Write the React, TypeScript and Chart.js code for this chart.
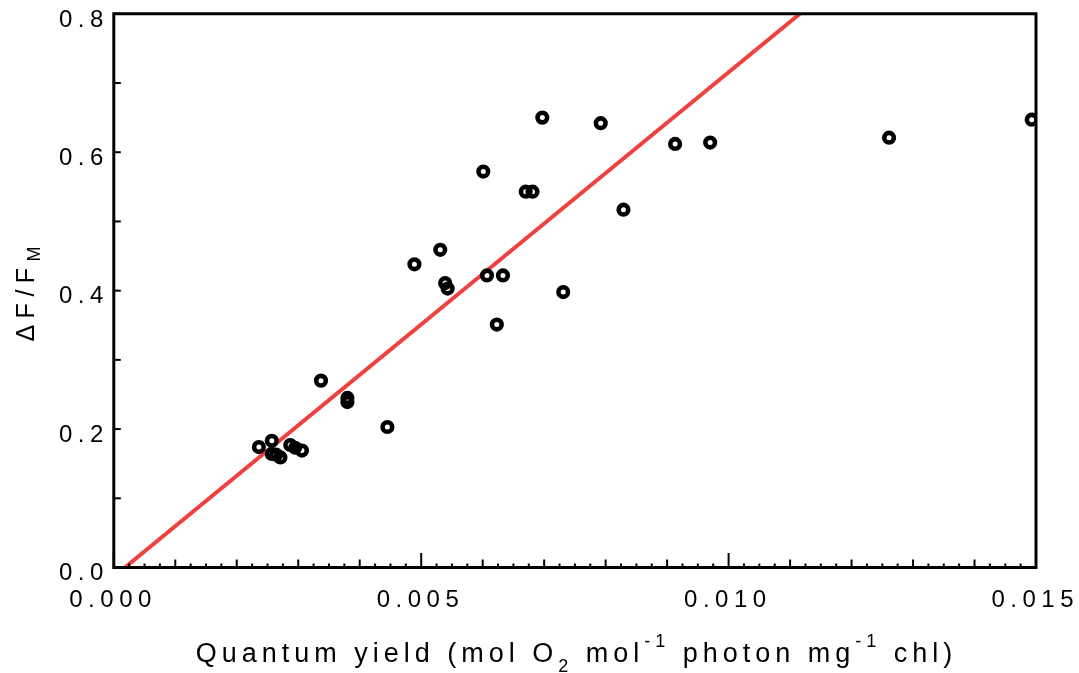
import React, { useEffect, useRef } from "react";
import { Chart, registerables } from "chart.js";

Chart.register(...registerables);

// ---- data ----
const yieldX = [
  0.00236, 0.00257, 0.00257, 0.00264, 0.00271, 0.00287, 0.00295, 0.00306,
  0.00337, 0.0038, 0.0038, 0.00445, 0.00489, 0.00531, 0.00539, 0.00543,
  0.00601, 0.00607, 0.00623, 0.00633, 0.0067, 0.00681, 0.00697, 0.00731,
  0.00792, 0.00829, 0.00913, 0.0097, 0.01261, 0.01493,
];
const fvfmY = [
  0.174, 0.183, 0.164, 0.163, 0.159, 0.177, 0.173, 0.169, 0.27, 0.245, 0.239,
  0.203, 0.438, 0.459, 0.411, 0.403, 0.572, 0.422, 0.351, 0.422, 0.543, 0.543,
  0.65, 0.398, 0.642, 0.517, 0.612, 0.614, 0.621, 0.647,
];
const fitX = [0.00018, 0.01116];
const fitY = [0.0, 0.8];

const xTickValues = [0, 0.005, 0.01, 0.015];
const xTickLabels = ["0.000", "0.005", "0.010", "0.015"];
const yTickValues = [0, 0.2, 0.4, 0.6, 0.8];
const yTickLabels = ["0.0", "0.2", "0.4", "0.6", "0.8"];

const FONT = '"Liberation Sans", Arial, Helvetica, sans-serif';

type Seg = { t: string; size: number; dy: number };

function segWidth(ctx: CanvasRenderingContext2D, segs: Seg[], spacing: number) {
  let total = 0;
  let n = 0;
  for (const s of segs) {
    ctx.font = `${s.size}px ${FONT}`;
    for (const c of Array.from(s.t)) {
      total += ctx.measureText(c).width;
      n++;
    }
  }
  return total + spacing * (n - 1);
}

function drawSegs(
  ctx: CanvasRenderingContext2D,
  segs: Seg[],
  x: number,
  y: number,
  spacing: number
) {
  let cx = x;
  ctx.textAlign = "left";
  ctx.textBaseline = "alphabetic";
  for (const s of segs) {
    ctx.font = `${s.size}px ${FONT}`;
    for (const c of Array.from(s.t)) {
      ctx.fillText(c, cx, y + s.dy);
      cx += ctx.measureText(c).width + spacing;
    }
  }
}

const framePlugin = {
  id: "framePlugin",
  afterDatasetsDraw(chart: any) {
    const ctx: CanvasRenderingContext2D = chart.ctx;
    const { left, right, top, bottom } = chart.chartArea;
    const xs = chart.scales.x;
    const ys = chart.scales.y;
    ctx.save();
    ctx.fillStyle = "#000";
    ctx.strokeStyle = "#000";

    // x ticks (inward)
    ctx.lineWidth = 2;
    for (let i = 0; i <= 60; i++) {
      const v = i * 0.00025;
      const px = xs.getPixelForValue(v);
      let len = 2.5;
      if (i % 20 === 0) len = 13;
      else if (i % 4 === 0) len = 6.5;
      ctx.beginPath();
      ctx.moveTo(px, bottom);
      ctx.lineTo(px, bottom - 1.5 - len);
      ctx.stroke();
    }
    // y ticks (inward)
    for (let i = 0; i <= 8; i++) {
      const py = ys.getPixelForValue(i * 0.1);
      ctx.beginPath();
      ctx.moveTo(left, py);
      ctx.lineTo(left + 7, py);
      ctx.stroke();
    }

    // frame
    ctx.lineWidth = 3;
    ctx.beginPath();
    ctx.rect(left, top, right - left, bottom - top);
    ctx.stroke();

    // tick labels
    const sp = 5.5;
    const ts = 24;
    xTickValues.forEach((v, i) => {
      const px = xs.getPixelForValue(v);
      const segs = [{ t: xTickLabels[i], size: ts, dy: 0 }];
      const w = segWidth(ctx, segs, sp);
      drawSegs(ctx, segs, px - 3.5 - w / 2, bottom + 39, sp);
    });
    yTickValues.forEach((v, i) => {
      const py = ys.getPixelForValue(v);
      const segs = [{ t: yTickLabels[i], size: ts, dy: 0 }];
      const w = segWidth(ctx, segs, sp);
      drawSegs(ctx, segs, left - 10.5 - w, py + 12.8, sp);
    });

    // x title
    const xt: Seg[] = [
      { t: "Quantum yield (mol O", size: 27, dy: 0 },
      { t: "2", size: 18, dy: 10 },
      { t: " mol", size: 27, dy: 0 },
      { t: "-1", size: 18, dy: -15 },
      { t: " photon mg", size: 27, dy: 0 },
      { t: "-1", size: 18, dy: -15 },
      { t: " chl)", size: 27, dy: 0 },
    ];
    const xsp = 5;
    const xw = segWidth(ctx, xt, xsp);
    drawSegs(ctx, xt, 574 - xw / 2, 662, xsp);

    // y title (rotated)
    const yt: Seg[] = [
      { t: "\u0394F/F", size: 25, dy: 0 },
      { t: "M", size: 18, dy: 6 },
    ];
    const ysp = 6.5;
    const yw = segWidth(ctx, yt, ysp);
    ctx.translate(33.5, 294 + yw / 2);
    ctx.rotate(-Math.PI / 2);
    drawSegs(ctx, yt, 0, 0, ysp);
    ctx.restore();
  },
};

export default function App() {
  const ref = useRef<HTMLCanvasElement | null>(null);
  useEffect(() => {
    if (!ref.current) return;
    const chart = new Chart(ref.current, {
      type: "scatter",
      data: {
        datasets: [
          {
            type: "line",
            data: fitX.map((x, i) => ({ x, y: fitY[i] })),
            borderColor: "rgb(240,64,64)",
            borderWidth: 4,
            pointRadius: 0,
            showLine: true,
            fill: false,
            order: 2,
          } as any,
          {
            data: yieldX.map((x, i) => ({ x, y: fvfmY[i] })),
            pointRadius: 4.8,
            pointBorderWidth: 4.6,
            pointBorderColor: "#000",
            pointBackgroundColor: "rgba(0,0,0,0)",
            order: 1,
          } as any,
        ],
      },
      options: {
        responsive: false,
        animation: false,
        layout: { padding: { left: 113.8, right: 43, top: 13.8, bottom: 105.5 } },
        plugins: { legend: { display: false }, tooltip: { enabled: false } },
        scales: {
          x: { type: "linear", min: 0, max: 0.015, display: false },
          y: { type: "linear", min: 0, max: 0.8, display: false },
        },
      },
      plugins: [framePlugin],
    });
    return () => chart.destroy();
  }, []);
  return (
    <div style={{ position: "fixed", left: 0, top: 0, width: 1079, height: 673, background: "#fff" }}>
      <canvas ref={ref} width={1079} height={673} style={{ display: "block" }} />
    </div>
  );
}
